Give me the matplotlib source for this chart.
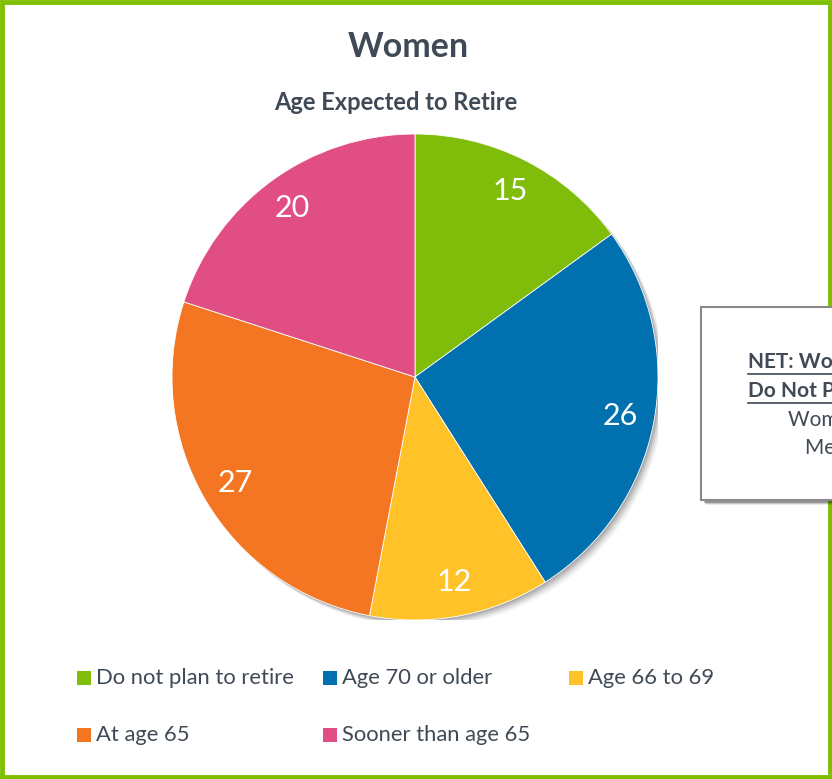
import matplotlib.pyplot as plt
from matplotlib.patches import Rectangle, Circle
from matplotlib.lines import Line2D

plt.rcParams['font.family'] = ['Lato', 'DejaVu Sans']

labels = ['Do not plan to retire', 'Age 70 or older', 'Age 66 to 69', 'At age 65', 'Sooner than age 65']
values = [15, 26, 12, 27, 20]
colors = ['#80BD0A', '#0070AE', '#FFC229', '#F47522', '#E04E84']
title = 'Women'
subtitle = 'Age Expected to Retire'
box_lines = ['NET: Women/Men Who', 'Do Not Plan to Retire', 'Women: 15%', 'Men: 14%']

W, H = 832, 779
txt = '#3F4A56'

fig = plt.figure(figsize=(W / 100, H / 100), dpi=100)

def fx(px):
    return px / W

def fy(py):
    return 1 - py / H

# green outer border
fig.patches.append(Rectangle((fx(2), fy(777)), fx(828), 775 / H, transform=fig.transFigure,
                             fill=False, edgecolor='#7FBF00', linewidth=3.5))

fig.text(fx(408), fy(47), title, ha='center', va='center', fontsize=24.5, fontweight='bold', color=txt)
fig.text(fx(396), fy(103), subtitle, ha='center', va='center', fontsize=17, fontweight='bold', color=txt)

# pie
cx, cy, r = 415, 377, 243
ax = fig.add_axes([fx(cx - r), fy(cy + r), 2 * r / W, 2 * r / H])
# soft shadow
for i, a in enumerate([0.10, 0.10, 0.08, 0.06, 0.04]):
    off = (i + 1) * 0.006
    ax.add_patch(Circle((off, -off), 1.0, color='black', alpha=a, lw=0, zorder=0))
wedges, texts = ax.pie(values, colors=colors, startangle=90, counterclock=False,
                       labels=[str(v) for v in values], labeldistance=0.86,
                       wedgeprops={'linewidth': 0.6, 'edgecolor': 'white', 'zorder': 2},
                       textprops={'color': 'white', 'fontsize': 22})
for t in texts:
    t.set_ha('center')
    t.set_va('center')
    t.set_zorder(3)
ax.set_xlim(-1, 1)
ax.set_ylim(-1, 1)
ax.set_aspect('equal')
ax.axis('off')

# legend, row-major in three columns
for i, (lab, col) in enumerate(zip(labels, colors)):
    row, c = divmod(i, 3)
    x0 = 77 + 246 * c
    y0 = 678 + 57 * row
    fig.patches.append(Rectangle((fx(x0), fy(y0 + 7)), fx(14), 14 / H, transform=fig.transFigure,
                                 facecolor=col, edgecolor='none'))
    fig.text(fx(x0 + 19), fy(y0), lab, ha='left', va='center', fontsize=15.8, color=txt)

# side text box (cut off by the figure edge)
bx0, by0, bx1, by1 = 701, 307, 900, 500
for k, a in enumerate([0.25, 0.15, 0.08]):
    fig.patches.append(Rectangle((fx(bx0 + 3 + k), fy(by1 + 3 + k)), fx(bx1 - bx0), (by1 - by0) / H,
                                 transform=fig.transFigure, facecolor='black', alpha=a,
                                 edgecolor='none', zorder=1))
fig.patches.append(Rectangle((fx(bx0), fy(by1)), fx(bx1 - bx0), (by1 - by0) / H, transform=fig.transFigure,
                             facecolor='white', edgecolor='#8A8A8A', linewidth=1.5, zorder=2))
starts = [748, 748, 788, 805]
ys = [362, 391, 420, 448]
for j, (s, x, y) in enumerate(zip(box_lines, starts, ys)):
    bold = j < 2
    fig.text(fx(x), fy(y), s, ha='left', va='center', fontsize=15,
             fontweight='bold' if bold else 'normal', color=txt, zorder=3)
    if bold:
        fig.lines.append(Line2D([fx(x), 1.2], [fy(y + 12), fy(y + 12)], transform=fig.transFigure,
                                color=txt, linewidth=1.2, zorder=3))

fig.savefig('out.png', dpi=100)
